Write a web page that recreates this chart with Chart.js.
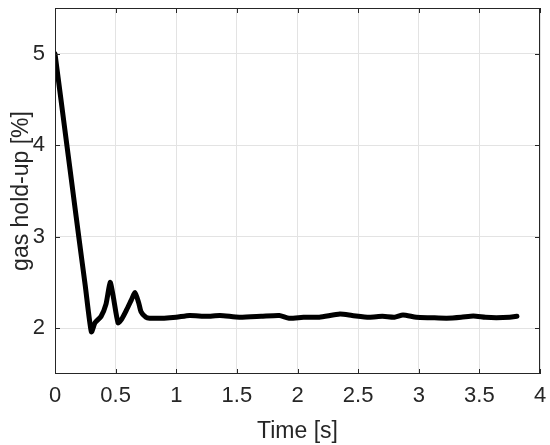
<!DOCTYPE html>
<html>
<head>
<meta charset="utf-8">
<script src="https://cdn.jsdelivr.net/npm/chart.js@4"></script>
<style>
  html, body { margin: 0; padding: 0; background: #fff; }
  #wrap { width: 550px; height: 445px; }
</style>
</head>
<body>
<div id="wrap"><canvas id="holdupChart" width="550" height="445"></canvas></div>
<script>
// time [s] and gas hold-up [%]
var times = [0, 0.05, 0.1, 0.15, 0.2, 0.25, 0.3, 0.33, 0.38, 0.42, 0.455, 0.48, 0.52, 0.55, 0.59, 0.63, 0.66, 0.69, 0.71, 0.75, 0.78,
    0.9, 1.0, 1.11, 1.25, 1.36, 1.52, 1.7, 1.85, 1.93, 2.05, 2.18, 2.35, 2.45, 2.59, 2.7, 2.8, 2.87, 2.98, 3.1, 3.23, 3.35, 3.45, 3.55, 3.64, 3.75, 3.81];
var holdup = [5.0, 4.49, 3.98, 3.47, 2.96, 2.46, 1.96, 2.06, 2.13, 2.26, 2.5, 2.35, 2.06, 2.1, 2.2, 2.31, 2.39, 2.28, 2.18, 2.12, 2.11,
    2.11, 2.12, 2.14, 2.13, 2.14, 2.12, 2.13, 2.14, 2.11, 2.12, 2.12, 2.155, 2.14, 2.12, 2.13, 2.12, 2.145, 2.12, 2.115, 2.11, 2.12, 2.135, 2.12, 2.115, 2.12, 2.13];
var xTicks = [0, 0.5, 1, 1.5, 2, 2.5, 3, 3.5, 4];
var yTicks = [2, 3, 4, 5];

var points = times.map(function (t, i) { return { x: t, y: holdup[i] }; });

var axisColor = '#262626';
var fontFam = 'Liberation Sans, Arial, sans-serif';

// MATLAB style box with ticks drawn inward
var boxPlugin = {
    id: 'boxPlugin',
    afterDatasetsDraw: function (chart) {
        var ctx = chart.ctx, a = chart.chartArea;
        var xs = chart.scales.x, ys = chart.scales.y;
        ctx.save();
        ctx.strokeStyle = axisColor;
        ctx.lineWidth = 1;
        ctx.strokeRect(a.left + 0.5, a.top + 0.5, a.right - a.left - 1, a.bottom - a.top - 1);
        ctx.beginPath();
        xTicks.forEach(function (v) {
            var px = Math.round(xs.getPixelForValue(v)) + 0.5;
            ctx.moveTo(px, a.bottom); ctx.lineTo(px, a.bottom - 5);
            ctx.moveTo(px, a.top); ctx.lineTo(px, a.top + 5);
        });
        yTicks.forEach(function (v) {
            var py = Math.round(ys.getPixelForValue(v)) + 0.5;
            ctx.moveTo(a.left, py); ctx.lineTo(a.left + 5, py);
            ctx.moveTo(a.right, py); ctx.lineTo(a.right - 5, py);
        });
        ctx.stroke();
        ctx.restore();
    }
};

var ctx = document.getElementById('holdupChart');
var holdupChart = new Chart(ctx, {
    type: 'line',
    data: {
        datasets: [{
            label: 'gas hold-up',
            data: points,
            borderColor: '#000',
            borderWidth: 5,
            pointRadius: 0,
            fill: false,
            tension: 0.2,
            borderJoinStyle: 'round',
            borderCapStyle: 'round'
        }]
    },
    plugins: [boxPlugin],
    options: {
        responsive: false,
        animation: false,
        layout: { padding: { top: 8, right: 10, left: 0, bottom: 0 } },
        plugins: {
            legend: { display: false },
            tooltip: { enabled: false }
        },
        scales: {
            x: {
                type: 'linear',
                min: 0,
                max: 4,
                afterBuildTicks: function (scale) {
                    scale.ticks = xTicks.map(function (v) { return { value: v }; });
                },
                afterFit: function (scale) {
                    scale.height = 71;
                    scale.paddingLeft = 0;
                    scale.paddingRight = 0;
                },
                grid: { color: '#e3e3e3', drawTicks: false },
                border: { display: false },
                ticks: {
                    color: axisColor,
                    padding: 9,
                    maxRotation: 0,
                    callback: function (v) { return String(v); },
                    font: { family: fontFam, size: 22 }
                },
                title: {
                    display: true,
                    text: 'Time [s]',
                    color: axisColor,
                    padding: { top: 2, bottom: 0 },
                    font: { family: fontFam, size: 23 }
                }
            },
            y: {
                type: 'linear',
                min: 1.5,
                max: 5.5,
                afterBuildTicks: function (scale) {
                    scale.ticks = yTicks.map(function (v) { return { value: v }; });
                },
                afterFit: function (scale) {
                    scale.width = 55;
                    scale.paddingTop = 0;
                    scale.paddingBottom = 0;
                },
                grid: { color: '#e3e3e3', drawTicks: false },
                border: { display: false },
                ticks: {
                    color: axisColor,
                    padding: 10,
                    callback: function (v) { return String(v); },
                    font: { family: fontFam, size: 22 }
                },
                title: {
                    display: true,
                    text: 'gas hold-up [%]',
                    color: axisColor,
                    padding: { top: 8, bottom: 0 },
                    font: { family: fontFam, size: 23 }
                }
            }
        }
    }
});
</script>
</body>
</html>
